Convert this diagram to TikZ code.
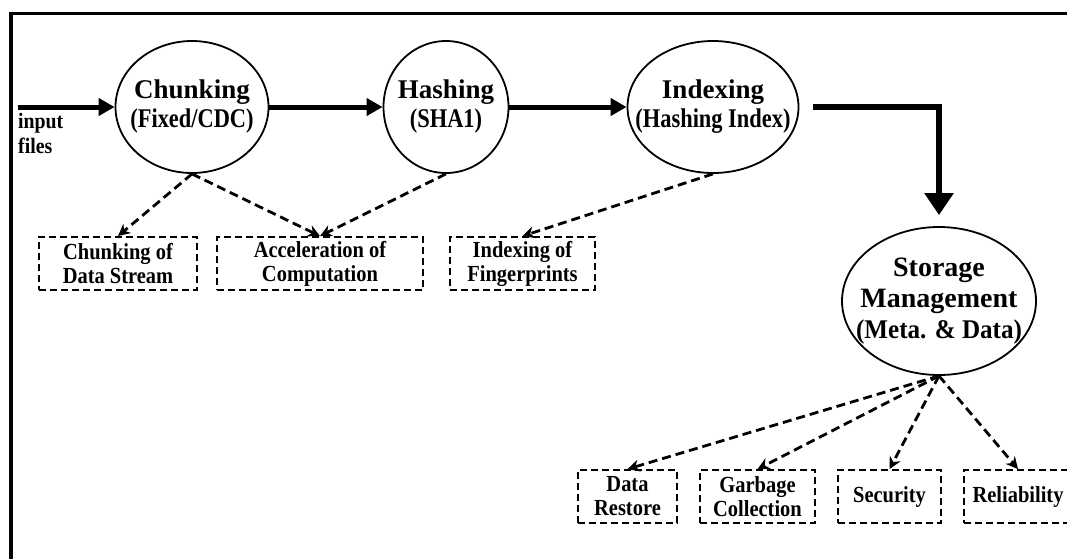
\documentclass[tikz,border=0pt]{standalone}
\usepackage{fontspec}
\setmainfont{Liberation Serif}
\newfontfamily\subfont[FakeStretch=0.83]{Liberation Serif}
\newfontfamily\storefont[FakeStretch=0.93]{Liberation Serif}
\newfontfamily\taskfont[FakeStretch=0.89]{Liberation Serif}
\newfontfamily\inputfont[FakeStretch=0.9]{Liberation Serif}
\usetikzlibrary{shapes.geometric,arrows.meta}
\newcommand{\procsub}[1]{{\subfont\bfseries\fontsize{27}{29}\selectfont #1}}
\newcommand{\heighttask}{53pt}
\tikzset{
    proc/.style={draw, ellipse, line width=1.8pt, inner sep=-40pt, align=center, font=\bfseries\fontsize{27}{29}\selectfont},
    task/.style={draw, rectangle, dash pattern=on 7pt off 4pt, line width=1.8pt, minimum height=\heighttask, inner sep=0pt, align=center, font=\taskfont\bfseries\fontsize{23}{24}\selectfont},
    flow/.style={-{Triangle[length=16pt,width=17pt]}, line width=5pt},
    bigflow/.style={-{Triangle[length=22pt,width=28pt]}, line width=5.5pt},
    link/.style={-{Stealth[length=12pt,width=12pt]}, line width=2.8pt, dash pattern=on 9pt off 5pt}
}
\begin{document}
\begin{tikzpicture}[x=1pt, y=-1pt]
    \useasboundingbox (0,0) rectangle (1067,558);
    \clip (0,0) rectangle (1067,558);
    \draw[line width=3.5pt] (11,13.5) rectangle (1100,600);

    % pipeline
    \node[proc, minimum width=153pt, minimum height=132pt] (chunk) at (192,107) {Chunking\\\procsub{(Fixed/CDC)}};
    \node[proc, minimum width=125pt, minimum height=132pt] (hash) at (446,107) {Hashing\\\procsub{(SHA1)}};
    \node[proc, minimum width=171pt, minimum height=132pt] (index) at (713,107) {Indexing\\\procsub{(Hashing Index)}};
    \node[proc, minimum width=194pt, minimum height=148pt, font=\bfseries\fontsize{28}{31}\selectfont] (store) at (939,301) {Storage\\Management\\{\storefont\fontsize{27}{28}\selectfont (Meta. \& Data)}};

    \coordinate (in) at (18,107);
    \node[anchor=north west, align=left, inner sep=0pt, font=\inputfont\bfseries\fontsize{22}{25}\selectfont] (inlabel) at (18,113) {input\\files};

    % topics
    \node[task, minimum width=158pt] (chunkbox) at (118,263.5) {Chunking of\\Data Stream};
    \node[task, minimum width=206pt] (accelbox) at (320,263.5) {Acceleration of\\Computation};
    \node[task, minimum width=145pt] (fpbox) at (522.5,263.5) {Indexing of\\Fingerprints};
    \node[task, minimum width=99pt] (restorebox) at (627.5,496.5) {Data\\Restore};
    \node[task, minimum width=115pt] (gcbox) at (757.5,496.5) {Garbage\\Collection};
    \node[task, minimum width=103pt] (secbox) at (889.5,496.5) {Security};
    \node[task, minimum width=108pt] (relbox) at (1018,496.5) {Reliability};

    \draw[flow] (in) -- (chunk.west);
    \draw[flow] (chunk.east) -- (hash.west);
    \draw[flow] (hash.east) -- (index.west);
    \draw[bigflow, shorten <=14pt, shorten >=11pt] (index.east) -| (store.north);

    \draw[link] (chunk.south) -- (chunkbox.north);
    \draw[link] (chunk.south) -- (accelbox.north);
    \draw[link] (hash.south) -- (accelbox.north);
    \draw[link] (index.south) -- (fpbox.north);
    \draw[link] (store.south) -- (restorebox.north);
    \draw[link] (store.south) -- (gcbox.north);
    \draw[link] (store.south) -- (secbox.north);
    \draw[link] (store.south) -- (relbox.north);
\end{tikzpicture}
\end{document}
